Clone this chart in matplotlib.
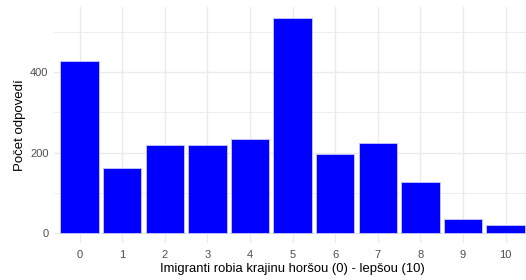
import numpy as np
import matplotlib.pyplot as plt

plt.rcParams['font.family'] = ['Liberation Sans', 'DejaVu Sans']

# odpovede 0..10
categories = ['0', '1', '2', '3', '4', '5', '6', '7', '8', '9', '10']
counts = [429, 161, 218, 218, 235, 537, 197, 224, 127, 34, 19]

fig = plt.figure(figsize=(5.26, 2.8), dpi=100)
ax = fig.add_axes([0.1027, 0.1307, 0.907, 0.845])

x = np.arange(len(categories))
ax.bar(x, counts, width=0.9, color='#0000FF', edgecolor='#C8C8FF', linewidth=0.6, zorder=3)

ymax = max(counts)
ax.set_xlim(-0.6, len(categories) - 0.4)
ax.set_ylim(-0.05 * ymax, 1.05 * ymax)

ax.set_xticks(x)
ax.set_xticklabels(categories)
ax.set_yticks([0, 200, 400])
ax.set_yticks([100, 300, 500], minor=True)

grid = '#EBEBEB'
ax.grid(True, which='major', axis='both', color=grid, linewidth=1.0, zorder=0)
ax.grid(True, which='minor', axis='y', color=grid, linewidth=0.6, zorder=0)
ax.set_axisbelow(True)

for s in ax.spines.values():
    s.set_visible(False)
ax.tick_params(axis='both', which='both', length=0, labelsize=8, labelcolor='#4D4D4D')
ax.tick_params(axis='x', pad=5)
ax.tick_params(axis='y', pad=4)

ax.set_xlabel('Imigranti robia krajinu horšou (0) - lepšou (10)', fontsize=9.4, labelpad=2)
ax.set_ylabel('Počet odpovedí', fontsize=9.5, labelpad=3)

fig.savefig('out.png', dpi=100)
